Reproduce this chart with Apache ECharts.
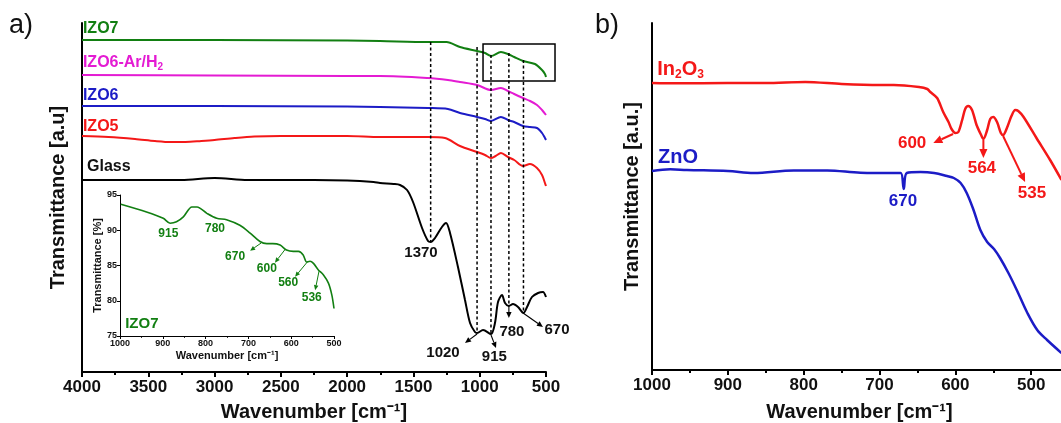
<!DOCTYPE html>
<html><head><meta charset="utf-8">
<script src="https://cdn.jsdelivr.net/npm/echarts@6/dist/echarts.min.js"></script>
<style>html,body{margin:0;padding:0;background:#fff}#c{width:1061px;height:423px}</style>
</head><body><div id="c"></div>
<script>
// ---------- Panel a : FTIR spectra (wavenumber cm-1, offset transmittance a.u.) ----------
const glassX = [4000,3750,3500,3250,3000,2750,2500,2250,2000,1800,1752,1650,1601,1548,1503,1435,1390,1370,1337,1285,1254,1224,1164,1111,1073,1036,1020,975,915,885,862,832,809,780,749,711,670,643,606,560,523,500];
const glassY = [192,192,192,192,194,192,192,192,191.5,190,189,188,187,182,170,144,131,130,134,145,149,139,105,72,49,40,39,42,38,49,70,77,69,66,68,65,59,65,75,79,80,75];
const izo5X = [4000,3800,3600,3450,3330,3220,3100,3000,2850,2700,2500,2000,1752,1390,1262,1149,1020,960,915,880,840,787,740,673,621,568,530,508,500];
const izo5Y = [236,235,233,231,230,230,231,232,234,235.5,236,236,235,235,234,226,220,217,214,216,219,215,212,206,208,204,197,189,186];
const izo6X = [4000,3000,2000,1752,1390,1240,1149,1020,960,915,840,787,740,673,621,568,530,508,500];
const izo6Y = [266,266,265.5,265,264,263,259,255,253,251,255,252,250,246,245,244,239,234,232];
const izo6arX = [4000,3000,2000,1752,1390,1240,1149,1020,915,840,787,740,673,620,568,530,500];
const izo6arY = [297,296.5,296,296,294,292,290,287,282,284,281,278,274,271,267,262,257];
const izo7X = [4000,3000,2000,1752,1390,1250,1149,1020,960,915,840,787,740,673,583,530,508,500];
const izo7Y = [332,332,331.5,331,330,330,325,321,319,316,320,318,315,311,308,302,298,295];

// Dashed guide lines [wavenumber, top value, bottom value]
const aDashes = [[1370,330,130],[1020,325,40],[915,317,38],[780,319,67],[670,312,60]];
// Arrows [x1, y1, x2, y2]
const aArrows = [[1020,38,1111,29],[915,37,877,24],[780,67,780,54],[673,59,523,45]];
// Peak labels [x, y, text]
const aPeakLabels = [[1443,119,'1370'],[1277,19,'1020'],[890,15,'915'],[757,40,'780'],[417,42,'670']];
// Zoom box [x1, y1, x2, y2]
const aBox = [975,328,432,291];
// Series names [x, y, name]
const aNames = [[3993,343,'IZO7'],[3993,309,'IZO6-Ar/H|2'],[3993,276,'IZO6'],[3993,245,'IZO5'],[3962,205,'Glass']];

// ---------- Inset : IZO7 zoom (Transmittance %) ----------
const insetX = [998,938,899,883,868,852,832,820,797,774,751,720,696,673,657,643,626,611,595,583,572,564,556,548,537,525,513,505,500];
const insetY = [93.7,92.6,91.7,91.0,91.2,91.9,93.3,93.3,92.4,91.7,91.5,90.7,89.6,88.4,88.1,88.1,87.9,87.2,87.0,87.0,86.5,85.5,85.6,85.3,84.4,83.7,82.5,80.8,78.9];
const insetArrows = [[670,88.2,696,87.1],[614,87.3,638,85.4],[561,85.6,591,83.4],[535,84.2,544,81.5]];
const insetLabels = [[887,89.5,'915'],[778,90.2,'780'],[731,86.3,'670'],[657,84.5,'600'],[607,82.5,'560'],[552,80.5,'536']];
const insetName = [988,76.7,'IZO7'];

// ---------- Panel b : In2O3 and ZnO ----------
const in2o3X = [1000,967,901,850,798,750,700,681,648,637,633,624,616,609,605,600,596,591,587,583,578,572,566,563,558,554,550,545,540,537,532,526,521,517,510,493,475,460];
const in2o3Y = [287,286.7,287,287,288,286,285,285,283,281,278,272,258,248,241,237,238,250,261,264,260,245,235,231,240,251,253,248,237,235,242,254,260,259,253,232,210,190];
const znoX = [1000,976,954,900,866,813,769,725,681,672,668,664,646,628,611,602,593,585,576,567,558,549,541,530,519,505,492,479,460];
const znoY = [199,200.7,200,199,197,199.5,199.5,197.3,197,197,181,197,198,197,194,192,187,177,160,140,128,121,112,97,80,57,40,30,17];
const bArrows = [[603,236,629,227],[563,230,563,212],[537,234,508,188]];
const bLabels = [[657,227,'600'],[565,202,'564'],[499,177,'535']];
const bZnoLabel = [669,169,'670'];
const bNames = [[993,301,'In|2|O|3'],[992,213,'ZnO']];

// ---------- styles ----------
const F = '"Liberation Sans", Arial, Helvetica, sans-serif';
const GREEN = '#127f12', MAGENTA = '#e41bd3', BLUE = '#1c1cc6', RED = '#f41818', BLACK = '#000';
const seriesColors = {glass: BLACK, izo5: RED, izo6: BLUE, izo6ar: MAGENTA, izo7: GREEN};

const zip = (xs, ys) => xs.map((x, i) => [x, ys[i]]);

function annotSeries(xi, yi, items) {
  return {
    type: 'custom', xAxisIndex: xi, yAxisIndex: yi, clip: false, silent: true, z: 20, animation: false,
    data: items.map(it => it.at),
    renderItem(params, api) {
      const it = items[params.dataIndex];
      if (it.kind === 'dash') {
        const p1 = api.coord([it.x, it.y1]), p2 = api.coord([it.x, it.y2]);
        return {type: 'line', shape: {x1: p1[0], y1: p1[1], x2: p2[0], y2: p2[1]},
          style: {stroke: '#000', lineWidth: 1.5, lineDash: [3, 2.5]}};
      }
      if (it.kind === 'arrow') {
        const p1 = api.coord([it.x1, it.y1]), p2 = api.coord([it.x2, it.y2]);
        const ang = Math.atan2(p2[1] - p1[1], p2[0] - p1[0]);
        const L = it.head, W = it.head * 0.45;
        const bx = p2[0] - L * Math.cos(ang), by = p2[1] - L * Math.sin(ang);
        const nx = -Math.sin(ang) * W, ny = Math.cos(ang) * W;
        return {type: 'group', children: [
          {type: 'line', shape: {x1: p1[0], y1: p1[1], x2: bx, y2: by}, style: {stroke: it.color, lineWidth: it.lw}},
          {type: 'polygon', shape: {points: [[p2[0], p2[1]], [bx + nx, by + ny], [bx - nx, by - ny]]}, style: {fill: it.color}}
        ]};
      }
      if (it.kind === 'rect') {
        const p1 = api.coord([it.x1, it.y1]), p2 = api.coord([it.x2, it.y2]);
        return {type: 'rect', shape: {x: Math.min(p1[0], p2[0]), y: Math.min(p1[1], p2[1]),
          width: Math.abs(p2[0] - p1[0]), height: Math.abs(p2[1] - p1[1])},
          style: {stroke: '#000', lineWidth: 1.5, fill: null}};
      }
      if (it.kind === 'text') {
        const p = api.coord([it.x, it.y]);
        const st = {text: it.text, fill: it.color, fontSize: it.size, fontWeight: 'bold', fontFamily: F,
          align: it.align || 'center', verticalAlign: 'middle'};
        if (it.rich) st.rich = it.rich;
        return {type: 'text', x: p[0], y: p[1], style: st};
      }
      return null;
    }
  };
}

function subText(name, color, size) {
  const parts = name.split('|');
  if (parts.length === 1) return {text: name};
  let t = '';
  parts.forEach((p, i) => { t += (i % 2 === 0 ? '{m|' : '{s|') + p + '}'; });
  return {text: t, rich: {
    m: {fontSize: size, fontWeight: 'bold', fontFamily: F, fill: color, color: color},
    s: {fontSize: Math.round(size * 0.62), fontWeight: 'bold', fontFamily: F, fill: color, color: color, padding: [Math.round(size * 0.55), 0, 0, 0]}
  }};
}

// ----- build annotation items -----
const aItems = [];
aDashes.forEach(d => aItems.push({kind: 'dash', at: [d[0], d[1]], x: d[0], y1: d[1], y2: d[2]}));
aArrows.forEach(a => aItems.push({kind: 'arrow', at: [a[0], a[1]], x1: a[0], y1: a[1], x2: a[2], y2: a[3], color: BLACK, lw: 1.1, head: 6}));
aPeakLabels.forEach(l => aItems.push({kind: 'text', at: [l[0], l[1]], x: l[0], y: l[1], text: l[2], color: '#111', size: 15}));
aItems.push({kind: 'rect', at: [aBox[0], aBox[1]], x1: aBox[0], y1: aBox[1], x2: aBox[2], y2: aBox[3]});
const nameColors = [GREEN, MAGENTA, BLUE, RED, '#111'];
aNames.forEach((n, i) => {
  const s = subText(n[2], nameColors[i], 16);
  aItems.push({kind: 'text', at: [n[0], n[1]], x: n[0], y: n[1], text: s.text, rich: s.rich, color: nameColors[i], size: 16, align: 'left'});
});

const iItems = [];
insetArrows.forEach(a => iItems.push({kind: 'arrow', at: [a[0], a[1]], x1: a[0], y1: a[1], x2: a[2], y2: a[3], color: GREEN, lw: 1, head: 5}));
insetLabels.forEach(l => iItems.push({kind: 'text', at: [l[0], l[1]], x: l[0], y: l[1], text: l[2], color: GREEN, size: 12}));
iItems.push({kind: 'text', at: [insetName[0], insetName[1]], x: insetName[0], y: insetName[1], text: insetName[2], color: GREEN, size: 15, align: 'left'});

const bItems = [];
bArrows.forEach(a => bItems.push({kind: 'arrow', at: [a[0], a[1]], x1: a[0], y1: a[1], x2: a[2], y2: a[3], color: RED, lw: 2, head: 9}));
bLabels.forEach(l => bItems.push({kind: 'text', at: [l[0], l[1]], x: l[0], y: l[1], text: l[2], color: RED, size: 17}));
bItems.push({kind: 'text', at: [bZnoLabel[0], bZnoLabel[1]], x: bZnoLabel[0], y: bZnoLabel[1], text: bZnoLabel[2], color: BLUE, size: 17});
const bNameColors = [RED, BLUE];
bNames.forEach((n, i) => {
  const s = subText(n[2], bNameColors[i], 20);
  bItems.push({kind: 'text', at: [n[0], n[1]], x: n[0], y: n[1], text: s.text, rich: s.rich, color: bNameColors[i], size: 20, align: 'left'});
});

// ----- axes -----
const boldTxt = (size) => ({fontSize: size, fontWeight: 'bold', color: '#111', fontFamily: F});
const plain = v => String(v);
function xAx(grid, min, max, interval, lw, labelSize, nameSize, nameGap, tickLen, nameShift) {
  const nts = boldTxt(nameSize);
  if (nameShift) nts.padding = [0, nameShift * 2, 0, 0];
  return {gridIndex: grid, type: 'value', inverse: true, min, max, interval,
    axisLine: {show: true, onZero: false, lineStyle: {color: '#000', width: lw}},
    axisTick: {show: true, inside: false, length: tickLen, lineStyle: {color: '#000', width: lw}},
    minorTick: {show: true, splitNumber: 2, length: tickLen * 0.6, lineStyle: {color: '#000', width: lw}},
    splitLine: {show: false}, minorSplitLine: {show: false},
    axisLabel: Object.assign({margin: labelSize > 12 ? 7 : 3, showMinLabel: true, showMaxLabel: true, formatter: plain}, boldTxt(labelSize)),
    name: 'Wavenumber [cm⁻¹]', nameLocation: 'middle', nameGap, nameTextStyle: nts};
}
function yAx(grid, min, max, name, nameSize, nameGap, lw, labels) {
  return {gridIndex: grid, type: 'value', min, max, interval: labels ? 5 : undefined,
    axisLine: {show: true, onZero: false, lineStyle: {color: '#000', width: lw}},
    axisTick: {show: !!labels, inside: false, length: 3, lineStyle: {color: '#000', width: lw}},
    axisLabel: labels ? Object.assign({margin: 3, formatter: plain}, boldTxt(9)) : {show: false},
    splitLine: {show: false},
    name, nameLocation: 'middle', nameRotate: 90, nameGap, nameTextStyle: boldTxt(nameSize)};
}

const lineS = (name, data, color, xi, width, smooth) => ({
  name, type: 'line', data, xAxisIndex: xi, yAxisIndex: xi, showSymbol: false, symbol: 'none',
  smooth, lineStyle: {color, width}, itemStyle: {color}, animation: false, z: 5
});

const option = {
  animation: false,
  backgroundColor: '#fff',
  grid: [
    {left: 82, right: 515, top: 23, bottom: 51, outerBoundsMode: 'none', containLabel: false},
    {left: 120, top: 195, width: 214, height: 141, outerBoundsMode: 'none', containLabel: false},
    {left: 652, width: 455, top: 23, bottom: 53, outerBoundsMode: 'none', containLabel: false}
  ],
  xAxis: [
    xAx(0, 500, 4000, 500, 2, 17, 20, 30, 5, 0),
    xAx(1, 500, 1000, 100, 1, 9, 11, 14, 3, 0),
    xAx(2, 400, 1000, 100, 2, 17, 20, 32, 5, 20)
  ],
  yAxis: [
    yAx(0, 0, 349, 'Transmittance [a.u]', 20, 14, 2, false),
    yAx(1, 75, 95, 'Transmittance [%]', 11, 16, 1, true),
    yAx(2, 0, 347, 'Transmittance [a.u.]', 20, 10, 2, false)
  ],
  graphic: [
    {type: 'text', left: 9, top: 12, style: {text: 'a)', fontSize: 27, fontFamily: F, fill: '#111'}},
    {type: 'text', left: 595, top: 12, style: {text: 'b)', fontSize: 27, fontFamily: F, fill: '#111'}}
  ],
  series: [
    lineS('Glass', zip(glassX, glassY), seriesColors.glass, 0, 2, 0.3),
    lineS('IZO5', zip(izo5X, izo5Y), seriesColors.izo5, 0, 2, 0.3),
    lineS('IZO6', zip(izo6X, izo6Y), seriesColors.izo6, 0, 2, 0.3),
    lineS('IZO6-Ar/H2', zip(izo6arX, izo6arY), seriesColors.izo6ar, 0, 2, 0.3),
    lineS('IZO7', zip(izo7X, izo7Y), seriesColors.izo7, 0, 2, 0.3),
    lineS('IZO7 inset', zip(insetX, insetY), GREEN, 1, 1.6, 0.3),
    lineS('In2O3', zip(in2o3X, in2o3Y), RED, 2, 2.5, 0.3),
    lineS('ZnO', zip(znoX, znoY), BLUE, 2, 2.5, 0.35),
    annotSeries(0, 0, aItems),
    annotSeries(1, 1, iItems),
    annotSeries(2, 2, bItems)
  ]
};

const chart = echarts.init(document.getElementById('c'), null, {renderer: 'canvas'});
chart.setOption(option);
</script>
</body></html>
